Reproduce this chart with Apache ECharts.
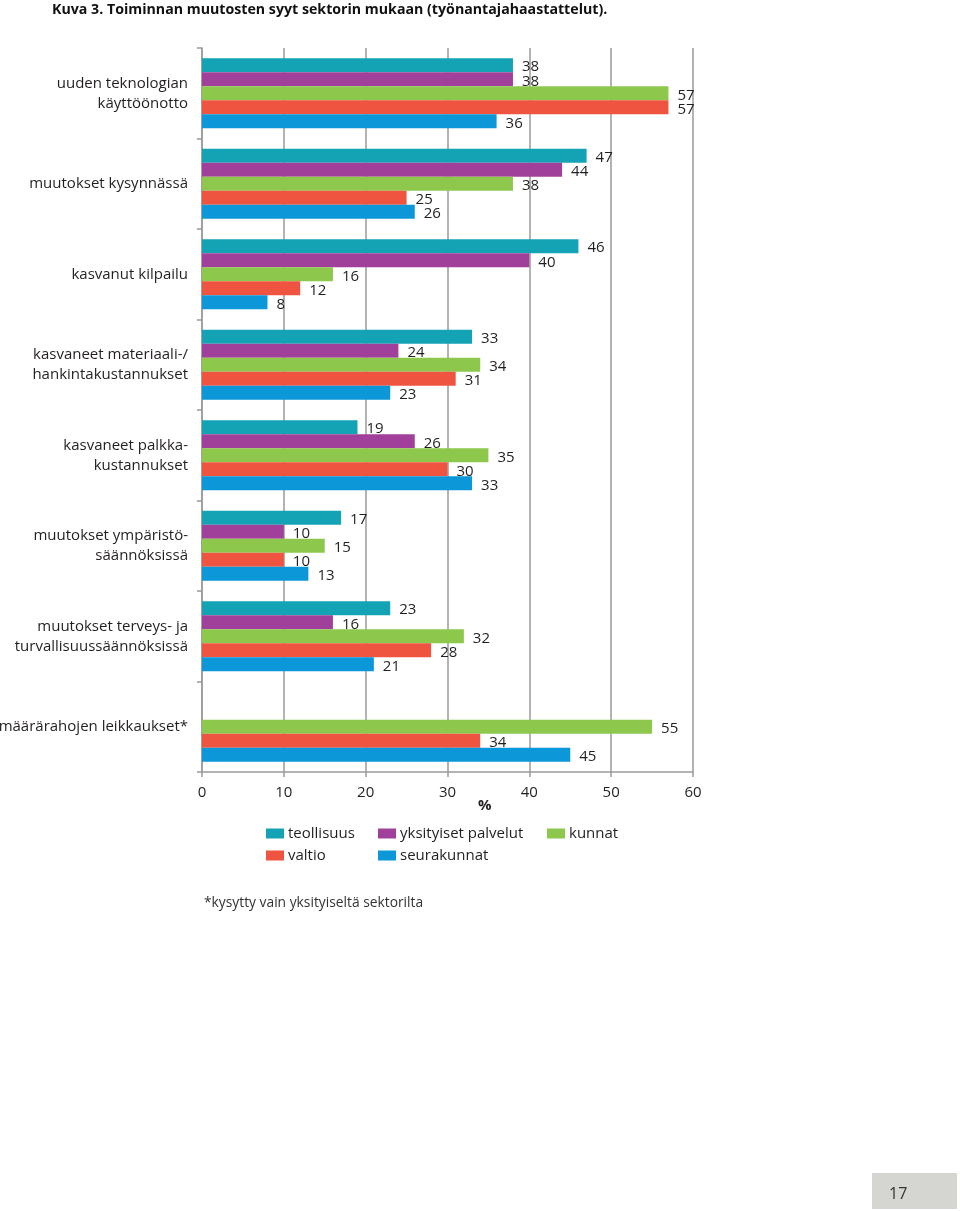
<!DOCTYPE html>
<html>
<head>
<meta charset="utf-8">
<script src="https://cdn.jsdelivr.net/npm/echarts@6/dist/echarts.min.js"></script>
<style>
html,body{margin:0;padding:0;background:#fff;}
#chart{width:960px;height:1211px;}
</style>
</head>
<body>
<div id="chart"></div>
<script>
const categories = [
  'uuden teknologian\nkäyttöönotto',
  'muutokset kysynnässä',
  'kasvanut kilpailu',
  'kasvaneet materiaali-/\nhankintakustannukset',
  'kasvaneet palkka-\nkustannukset',
  'muutokset ympäristö-\nsäännöksissä',
  'muutokset terveys- ja\nturvallisuussäännöksissä',
  'määrärahojen leikkaukset*'
];
const seriesNames = ['teollisuus', 'yksityiset palvelut', 'kunnat', 'valtio', 'seurakunnat'];
const teollisuus = [38, 47, 46, 33, 19, 17, 23, null];
const yksityisetPalvelut = [38, 44, 40, 24, 26, 10, 16, null];
const kunnat = [57, 38, 16, 34, 35, 15, 32, 55];
const valtio = [57, 25, 12, 31, 30, 10, 28, 34];
const seurakunnat = [36, 26, 8, 23, 33, 13, 21, 45];
const xTicks = [0, 10, 20, 30, 40, 50, 60];

const colors = ['#14a3b4', '#a0409a', '#8dc84c', '#ef5441', '#0b97d8'];
const allValues = [teollisuus, yksityisetPalvelut, kunnat, valtio, seurakunnat];
const FONT = '"Open Sans", sans-serif';
const TXT = '#231f20';

const chart = echarts.init(document.getElementById('chart'), null, {renderer: 'canvas'});

const series = seriesNames.map((n, i) => ({
  name: n,
  type: 'bar',
  data: allValues[i],
  barGap: 0,
  barCategoryGap: '22.6%',
  itemStyle: {color: colors[i]},
  label: {
    show: true,
    position: 'right',
    distance: 9,
    offset: [0, 2],
    color: TXT,
    fontFamily: FONT,
    fontSize: 15
  },
  animation: false
}));

const option = {
  animation: false,
  backgroundColor: '#fff',
  grid: {left: 202, right: 267, top: 48, bottom: 439, containLabel: false, outerBoundsMode: 'none'},
  xAxis: {
    type: 'value',
    min: 0, max: 60, interval: 10,
    axisLine: {show: true, lineStyle: {color: '#9a9a9a', width: 1.5}},
    axisTick: {show: true, length: 5, lineStyle: {color: '#9a9a9a', width: 1.5}},
    splitLine: {show: true, lineStyle: {color: '#9a9a9a', width: 1.5}},
    axisLabel: {
      color: TXT, fontFamily: FONT, fontSize: 15, margin: 13,
      formatter: v => xTicks.includes(v) ? String(v) : ''
    }
  },
  yAxis: {
    type: 'category',
    data: categories,
    inverse: true,
    axisLine: {show: true, lineStyle: {color: '#9a9a9a', width: 1.5}},
    axisTick: {show: true, length: 5, lineStyle: {color: '#9a9a9a', width: 1.5}},
    axisLabel: {
      color: TXT, fontFamily: FONT, fontSize: 15, margin: 14, lineHeight: 20, align: 'right'
    }
  },
  legend: [
    {data: ['teollisuus', 'valtio'], orient: 'vertical', left: 261, top: 821},
    {data: ['yksityiset palvelut', 'seurakunnat'], orient: 'vertical', left: 373, top: 821},
    {data: ['kunnat'], orient: 'vertical', left: 542, top: 821}
  ].map(l => Object.assign(l, {
    itemWidth: 18, itemHeight: 10, itemGap: 7,
    icon: 'rect',
    textStyle: {color: TXT, fontFamily: FONT, fontSize: 15, padding: [0, 0, 0, -1]}
  })),
  graphic: [
    {type: 'text', left: 52, top: 3, style: {text: 'Kuva 3. Toiminnan muutosten syyt sektorin mukaan (työnantajahaastattelut).', fill: '#111', font: 'bold 14.2px "Open Sans", sans-serif'}},
    {type: 'text', left: 478, top: 798, style: {text: '%', fill: TXT, font: 'bold 15px "Open Sans", sans-serif'}},
    {type: 'text', left: 204, top: 896, style: {text: '*kysytty vain yksityiseltä sektorilta', fill: '#333', font: '13.8px "Open Sans", sans-serif'}},
    {type: 'rect', shape: {x: 872, y: 1173, width: 85, height: 36}, style: {fill: '#d5d6d1'}},
    {type: 'text', left: 889, top: 1186, style: {text: '17', fill: '#333', font: '16px "Open Sans", sans-serif'}}
  ],
  series: series
};
chart.setOption(option);
</script>
</body>
</html>
